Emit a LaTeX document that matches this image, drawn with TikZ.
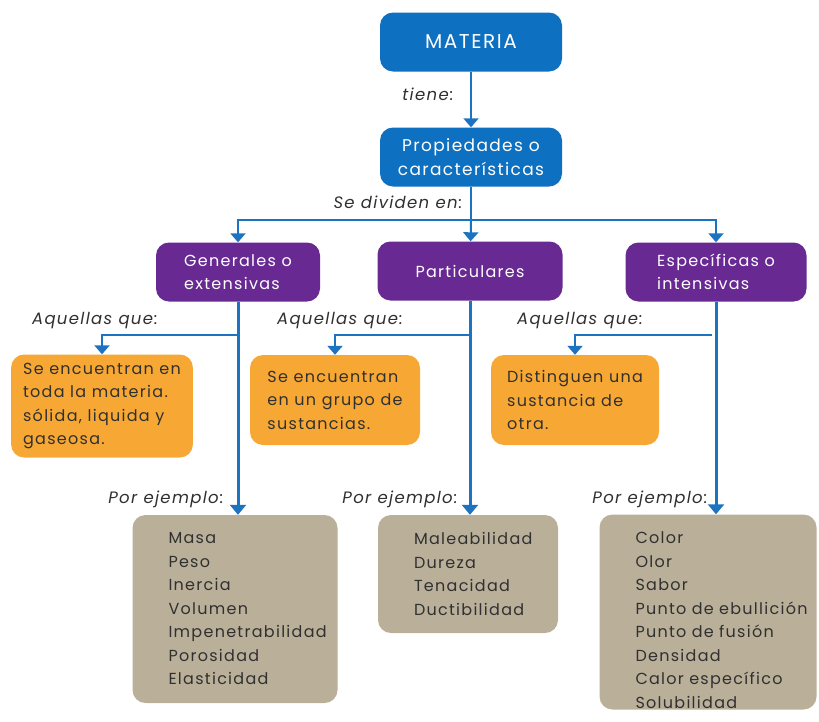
\documentclass[tikz,border=0pt]{standalone}
\usepackage{fontspec}
\setmainfont{Poppins}[LetterSpace=8]
\usetikzlibrary{arrows.meta,positioning}
\definecolor{azul}{RGB}{14,112,192}
\definecolor{morado}{RGB}{104,42,146}
\definecolor{naranja}{RGB}{247,168,52}
\definecolor{arena}{RGB}{186,176,154}
\definecolor{trazo}{RGB}{28,116,192}
\definecolor{tinta}{RGB}{48,48,48}
\tikzset{
  caja/.style={rectangle,rounded corners=13pt,inner ysep=0pt,font=\fontsize{16}{23.5}\selectfont},
  azulbox/.style={caja,fill=azul,text=white,align=center,minimum width=182pt,minimum height=59pt,
    font=\fontsize{17}{24}\selectfont},
  moradobox/.style={caja,fill=morado,text=white,align=left,minimum height=59pt},
  naranjabox/.style={caja,fill=naranja,text=tinta,align=left,inner xsep=12pt},
  arenabox/.style={caja,fill=arena,text=tinta,align=left,inner xsep=36pt},
  nota/.style={text=tinta,font=\fontsize{16.5}{18}\selectfont\itshape},
  flecha/.style={draw=trazo,line width=2pt,-{Triangle[width=15pt,length=9pt]}},
  flechagruesa/.style={draw=trazo,line width=3pt,-{Triangle[width=16pt,length=10pt]}},
}
\newcommand{\enlace}[2]{\draw[flecha] (#1) -- (#2);}
\newcommand{\rama}[2]{\draw[flecha] (#1) -| (#2);}
\newcommand{\bajada}[2]{\draw[flechagruesa] (#1.south) -- (#1.south |- #2.north);}
\begin{document}
\begin{tikzpicture}[x=1pt,y=-1pt]
  \useasboundingbox[fill=white] (0,0) rectangle (819,721);
  \node[azulbox,font=\fontsize{20}{24}\selectfont] (materia) at (471,42) {MATERIA};
  \node[azulbox] (prop) at (471,157) {Propiedades o\\características};
  \node[nota] (tiene) at (428,94) {tiene:};
  \node[nota] (sedividen) at (398,202) {Se dividen en:};
  \enlace{materia}{prop}

  \node[moradobox,minimum width=164pt] (gen) at (238,272) {Generales o\\extensivas};
  \node[moradobox,minimum width=185pt] (part) at (470,271) {Particulares};
  \node[moradobox,minimum width=181pt] (esp) at (716,272) {Específicas o\\intensivas};
  \coordinate (reparto) at (471,220);
  \draw[flecha] (prop) -- (reparto) -| (gen);
  \enlace{reparto}{part} \rama{reparto}{esp}

  \node[naranjabox,minimum width=179pt,minimum height=103pt] (nar1) at (102,406)
    {Se encuentran en\\toda la materia.\\sólida, liquida y\\gaseosa.};
  \node[naranjabox,minimum width=170pt,minimum height=90pt] (nar2) at (335,400)
    {Se encuentran\\en un grupo de\\sustancias.};
  \node[naranjabox,minimum width=168pt,minimum height=90pt] (nar3) at (575,400)
    {Distinguen una\\sustancia de\\otra.};
  \node[nota] (aq1) at (95,321) {Aquellas que:};
  \node[nota] (aq2) at (340,321) {Aquellas que:};
  \node[nota] (aq3) at (580,321) {Aquellas que:};
  \coordinate (r1) at (238,335); \coordinate (r2) at (470,335); \coordinate (r3) at (712,335);
  \rama{r1}{nar1} \rama{r2}{nar2} \rama{r3}{nar3}

  \node[arenabox,text width=133pt,minimum height=188pt] (gris1) at (235,609)
    {Masa\\Peso\\Inercia\\Volumen\\\mbox{Impenetrabilidad}\\Porosidad\\Elasticidad};
  \node[arenabox,text width=108pt,minimum height=118pt] (gris2) at (468,574)
    {Maleabilidad\\Dureza\\Tenacidad\\Ductibilidad};
  \node[arenabox,text width=145pt,minimum height=195pt] (gris3) at (708,612)
    {\rule{0pt}{28pt}Color\\Olor\\Sabor\\\mbox{Punto de ebullición}\\\mbox{Punto de fusión}\\Densidad\\\mbox{Calor específico}\\Solubilidad};
  \node[nota] (ej1) at (166,499) {Por ejemplo:};
  \node[nota] (ej2) at (400,499) {Por ejemplo:};
  \node[nota] (ej3) at (650,499) {Por ejemplo:};
  \bajada{gen}{gris1} \bajada{part}{gris2} \bajada{esp}{gris3}
\end{tikzpicture}
\end{document}
